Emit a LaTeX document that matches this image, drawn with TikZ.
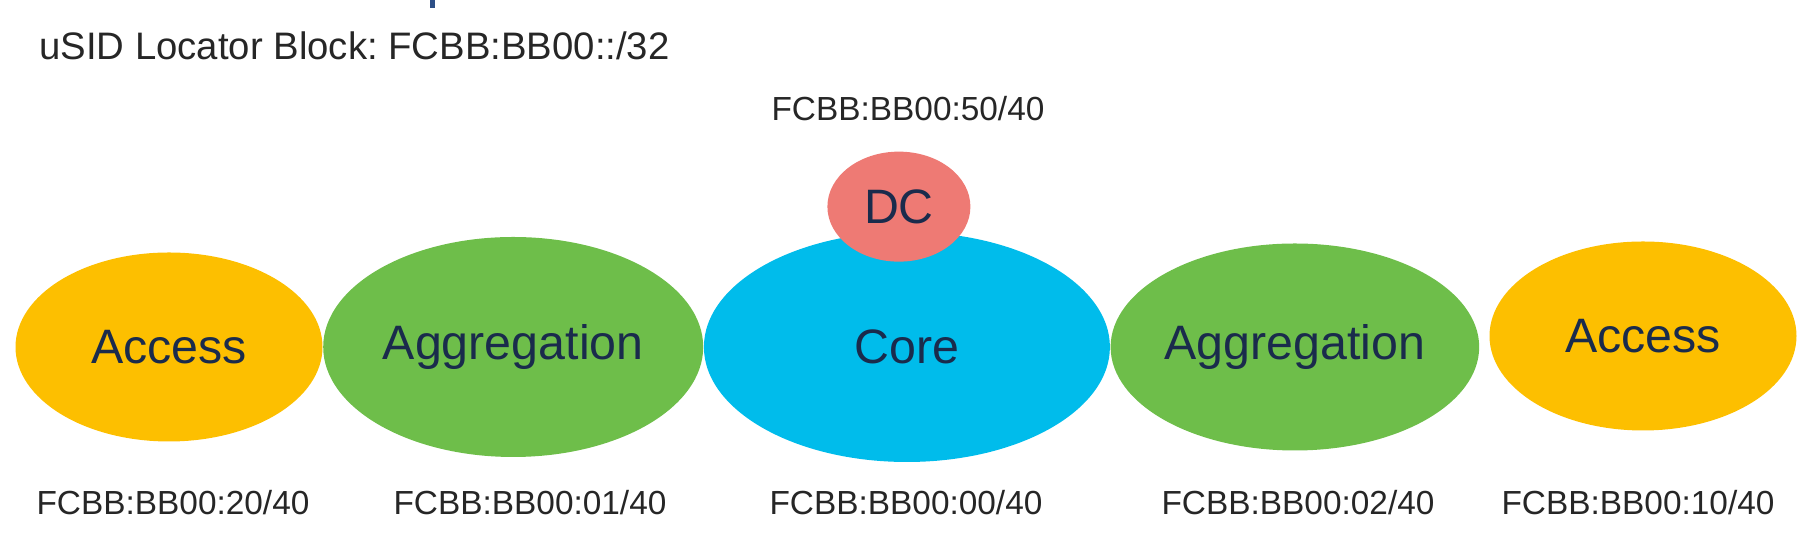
\documentclass[tikz,border=0pt]{standalone}
\usepackage{fontspec}
\setmainfont{Liberation Sans}
\usepackage{tikz}
\usetikzlibrary{positioning,shapes.geometric}
\frenchspacing

\definecolor{accessyellow}{HTML}{FDBF00}
\definecolor{agggreen}{HTML}{6EBE4A}
\definecolor{coreblue}{HTML}{00BCEB}
\definecolor{dcred}{HTML}{EE7A74}
\definecolor{navytext}{HTML}{1A2B4C}
\definecolor{labelgray}{HTML}{262626}
\definecolor{titleblue}{HTML}{2D4F86}

\begin{document}
\begin{tikzpicture}[
        zone/.style={ellipse, inner sep=0pt, text=navytext, font=\fontsize{27.5}{30}\selectfont},
        accesszone/.style={zone, fill=accessyellow, minimum width=6.14cm, minimum height=3.78cm},
        aggzone/.style={zone, fill=agggreen},
        addr/.style={text=labelgray, font=\fontsize{19}{22}\selectfont, inner sep=0pt}
    ]
    \useasboundingbox (0,0) rectangle (36.1,10.78);

    % clipped title
    \fill[titleblue] (8.6,10.62) rectangle (8.69,10.78);

    % Header
    \node[addr, anchor=west, font=\fontsize{21.8}{24}\selectfont] (block) at (0.78,9.86) {uSID Locator Block: FCBB:BB00::/32};

    % Left: Access and Aggregation
    \node[accesszone] (access1) at (3.38,3.84) {Access};
    \node[aggzone, minimum width=7.6cm, minimum height=4.4cm, right=0pt of access1] (agg1) {Aggregation};

    % Middle: Core and DC
    \node[zone, fill=coreblue, minimum width=8.12cm, minimum height=4.6cm, right=0pt of agg1] (core) {Core};
    \node[zone, fill=dcred, minimum width=2.86cm, minimum height=2.2cm] (dc) at ([xshift=-0.16cm, yshift=0.5cm]core.north) {DC};

    % Right: Aggregation and Access
    \node[aggzone, minimum width=7.3cm, minimum height=4.14cm, right=0pt of core] (agg2) {Aggregation};
    \node[accesszone] (access2) at (32.86,4.06) {Access};

    % Locators
    \node[addr] (dcloc) at (18.16,8.6) {FCBB:BB00:50/40};
    \node[addr] (access1loc) at (3.46,0.72) {FCBB:BB00:20/40};
    \node[addr] (agg1loc) at (10.6,0.72) {FCBB:BB00:01/40};
    \node[addr] (coreloc) at (18.12,0.72) {FCBB:BB00:00/40};
    \node[addr] (agg2loc) at (25.96,0.72) {FCBB:BB00:02/40};
    \node[addr] (access2loc) at (32.76,0.72) {FCBB:BB00:10/40};

\end{tikzpicture}
\end{document}
